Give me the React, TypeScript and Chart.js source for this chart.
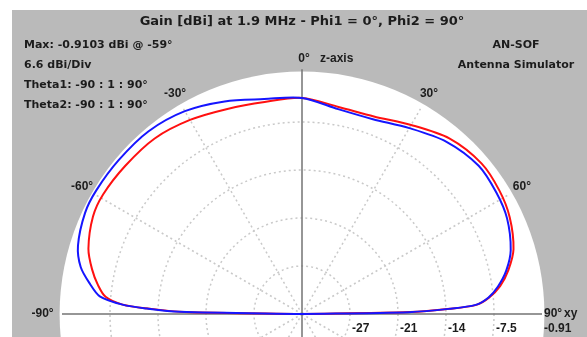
import { useEffect, useRef } from "react";
import { Chart, registerables } from "chart.js";

Chart.register(...registerables);

// Elevation angle theta (deg), 0 = z-axis, ±90 = xy plane
const THETA = [-90, -89, -88, -87, -85, -82, -78, -73, -65, -59, -50, -40, -30, -20, -10, 0, 10, 20, 30, 40, 50, 58, 65, 73, 78, 82, 85, 87, 88, 89, 90];
// Gain [dBi], Phi1 = 0° (blue)
const GAIN_PHI1 = [-45, -17.1, -12.6, -9.2, -6.0, -4.5, -2.8, -1.7, -1.0, -0.91, -1.0, -1.1, -1.7, -2.8, -3.9, -4.2, -5.3, -5.4, -4.4, -3.0, -2.2, -2.4, -2.8, -3.9, -5.2, -6.7, -8.2, -10.0, -13.7, -19.2, -45];
// Gain [dBi], Phi2 = 90° (red)
const GAIN_PHI2 = [-45, -17.7, -13.0, -9.2, -6.8, -5.6, -4.4, -3.2, -2.2, -2.0, -2.2, -2.4, -3.1, -3.9, -4.3, -4.2, -5.0, -5.0, -3.9, -2.4, -1.7, -1.9, -2.4, -3.5, -4.9, -6.4, -8.1, -9.9, -13.6, -19.1, -45];

const RING_LABELS = ["-27", "-21", "-14", "-7.5", "-0.91"];
const ANGLE_TICKS = [-60, -30, 30, 60];
const MAX_DB = -0.91;
const DB_PER_DIV = 6.6;
const DIVS = 5;

const TITLE = "Gain [dBi] at 1.9 MHz - Phi1 = 0°, Phi2 = 90°";
const INFO_LINES = ["Max: -0.9103 dBi @ -59°", "6.6 dBi/Div", "Theta1: -90 : 1 : 90°", "Theta2: -90 : 1 : 90°"];
const BRAND_LINES = ["AN-SOF", "Antenna Simulator"];

// layout
const W = 587;
const H = 337;
const CX = 302;
const CY = 314;
const R = 240;

function toXY(theta: number, gain: number) {
  const span = DB_PER_DIV * DIVS;
  const r = Math.max(0, (gain - (MAX_DB - span)) / span);
  const a = (theta * Math.PI) / 180;
  return { x: r * Math.sin(a), y: r * Math.cos(a) };
}

const TEXT = "#1c1c1c";

const polarPlugin = {
  id: "polarGrid",
  beforeDraw(chart: any) {
    const { ctx } = chart;
    const xs = chart.scales.x;
    const ys = chart.scales.y;
    ctx.save();
    ctx.fillStyle = "#ffffff";
    ctx.fillRect(0, 0, chart.width, chart.height);
    ctx.fillStyle = "#bababa";
    ctx.fillRect(12, 10, chart.width - 12, chart.height - 10);
    const cx = xs.getPixelForValue(0);
    const cy = ys.getPixelForValue(0);
    const rx = xs.getPixelForValue(1) - cx;
    const ry = cy - ys.getPixelForValue(1);
    ctx.fillStyle = "#ffffff";
    ctx.beginPath();
    ctx.ellipse(cx, cy, rx * 1.01, ry * 1.01, 0, 0, Math.PI * 2);
    ctx.fill();

    ctx.strokeStyle = "#c9c9c9";
    ctx.lineWidth = 1.5;
    ctx.setLineDash([2, 3]);
    for (let k = 1; k < DIVS; k++) {
      ctx.beginPath();
      ctx.ellipse(cx, cy, (rx * k) / DIVS, (ry * k) / DIVS, 0, 0, Math.PI * 2);
      ctx.stroke();
    }
    for (let a = 0; a < 360; a += 30) {
      if (a % 90 === 0) continue;
      const t = (a * Math.PI) / 180;
      ctx.beginPath();
      ctx.moveTo(cx, cy);
      ctx.lineTo(cx + rx * Math.sin(t), cy - ry * Math.cos(t));
      ctx.stroke();
    }
    ctx.setLineDash([]);
    ctx.strokeStyle = "#747474";
    ctx.lineWidth = 1.5;
    ctx.beginPath();
    ctx.moveTo(cx, ys.getPixelForValue(1.02));
    ctx.lineTo(cx, chart.height);
    ctx.moveTo(xs.getPixelForValue(-1.0), cy);
    ctx.lineTo(xs.getPixelForValue(1.0), cy);
    ctx.stroke();
    ctx.restore();
  },
  afterDraw(chart: any) {
    const { ctx } = chart;
    const xs = chart.scales.x;
    const ys = chart.scales.y;
    const cx = xs.getPixelForValue(0);
    const cy = ys.getPixelForValue(0);
    ctx.save();
    ctx.fillStyle = TEXT;
    ctx.textBaseline = "middle";

    ctx.font = "bold 13px 'DejaVu Sans'";
    ctx.textAlign = "center";
    ctx.fillText(TITLE, 302, 22);

    ctx.font = "bold 11px 'DejaVu Sans'";
    ctx.textAlign = "left";
    INFO_LINES.forEach((t, i) => ctx.fillText(t, 24, 45 + i * 20));
    ctx.textAlign = "center";
    BRAND_LINES.forEach((t, i) => ctx.fillText(t, 516, 45 + i * 20));

    ctx.font = "bold 12px 'Liberation Sans'";
    ctx.textAlign = "center";
    ANGLE_TICKS.forEach((a) => {
      const t = (a * Math.PI) / 180;
      const rr = 1.058;
      ctx.fillText(`${a}°`, xs.getPixelForValue(rr * Math.sin(t)), ys.getPixelForValue(rr * Math.cos(t)));
    });
    ctx.fillText("0°", cx + 2, ys.getPixelForValue(1.062));
    ctx.textAlign = "left";
    ctx.fillText("z-axis", cx + 18, ys.getPixelForValue(1.062));

    ctx.textAlign = "right";
    ctx.fillText("-90°", xs.getPixelForValue(-1.01) - 6, cy);
    ctx.textAlign = "left";
    ctx.fillText("90°", xs.getPixelForValue(1.0) + 2, cy);
    ctx.fillText("xy", xs.getPixelForValue(1.0) + 22, cy);
    RING_LABELS.forEach((t, i) => {
      ctx.fillText(t, xs.getPixelForValue((i + 1) / DIVS) + 2, cy + 15);
    });
    ctx.restore();
  },
};

export default function App() {
  const ref = useRef<HTMLCanvasElement>(null);
  useEffect(() => {
    document.body.style.margin = "0";
    const canvas = ref.current;
    if (!canvas) return;
    const blue = THETA.map((t, i) => toXY(t, GAIN_PHI1[i]));
    const red = THETA.map((t, i) => toXY(t, GAIN_PHI2[i]));
    const chart = new Chart(canvas, {
      type: "scatter",
      data: {
        datasets: [
          { label: "Phi1 = 0°", data: blue, showLine: true, borderColor: "#1515ff", borderWidth: 2, pointRadius: 0, tension: 0.3, fill: false },
          { label: "Phi2 = 90°", data: red, showLine: true, borderColor: "#ff1010", borderWidth: 2, pointRadius: 0, tension: 0.3, fill: false },
        ],
      },
      options: {
        responsive: false,
        animation: false,
        layout: { padding: 0 },
        plugins: { legend: { display: false }, tooltip: { enabled: false }, title: { display: false } },
        scales: {
          x: { type: "linear", min: -CX / R, max: (W - CX) / R, display: false },
          y: { type: "linear", min: -(H - CY) / R, max: CY / R, display: false },
        },
        events: [],
      },
      plugins: [polarPlugin],
    });
    return () => chart.destroy();
  }, []);
  return <canvas ref={ref} width={W} height={H} style={{ display: "block" }} />;
}
